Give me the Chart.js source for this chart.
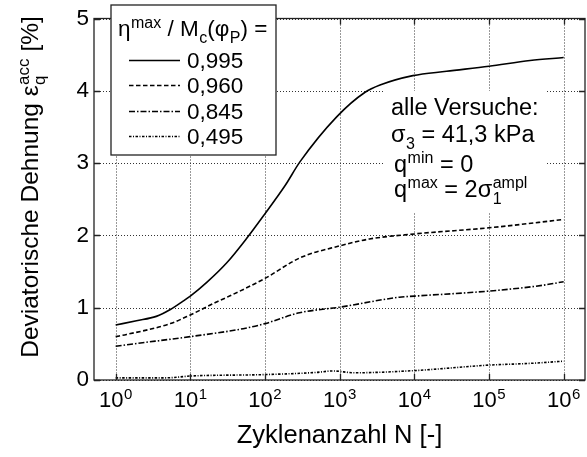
<!DOCTYPE html>
<html>
<head>
<meta charset="utf-8">
<script src="https://cdn.jsdelivr.net/npm/chart.js@4.4.1/dist/chart.umd.min.js"></script>
<style>
  html, body { margin: 0; padding: 0; background: #fff; }
  canvas { display: block; }
</style>
</head>
<body>
<canvas id="chart" width="587" height="457"></canvas>
<script>
const FONT = '"Liberation Sans", Arial, Helvetica, sans-serif';

// Zyklenanzahl N und akkumulierte Dehnung [%] je Versuch
const n995 = [1, 1.9, 3.5, 5.4, 8, 10, 16.6, 31, 56, 100, 186, 295, 912, 2190, 3470, 9550, 27000, 100000, 355000, 1000000];
const eps995 = [0.76, 0.82, 0.88, 0.975, 1.09, 1.16, 1.35, 1.625, 1.95, 2.30, 2.69, 3.02, 3.64, 3.98, 4.08, 4.21, 4.27, 4.34, 4.42, 4.46];

const n960 = [1, 1.4, 5.4, 10, 22, 31, 100, 295, 1000, 2500, 10000, 100000, 1000000];
const eps960 = [0.60, 0.63, 0.78, 0.90, 1.075, 1.145, 1.405, 1.69, 1.855, 1.95, 2.02, 2.105, 2.22];

const n845 = [1, 1.75, 10, 51, 100, 290, 1000, 6300, 10000, 100000, 525000, 1000000];
const eps845 = [0.467, 0.50, 0.60, 0.71, 0.78, 0.93, 1.007, 1.145, 1.16, 1.23, 1.31, 1.36];

const n495 = [1, 4.8, 10, 100, 490, 810, 1580, 10000, 100000, 355000, 1000000];
const eps495 = [0.03, 0.03, 0.055, 0.075, 0.105, 0.125, 0.10, 0.13, 0.206, 0.23, 0.26];

const seriesLabels = ['0,995', '0,960', '0,845', '0,495'];
const xTickValues = [1, 10, 100, 1000, 10000, 100000, 1000000];
const xTickExp = ['0', '1', '2', '3', '4', '5', '6'];
const yTickValues = [0, 1, 2, 3, 4, 5];

const dashes = [[], [4.5, 2.5], [6, 2, 1.5, 2], [2.5, 1.5, 1, 1.5]];

function toPoints(xs, ys) {
    return xs.map((x, i) => ({ x, y: ys[i] }));
}

// Text mit Hoch-/Tiefstellung; gibt die Breite zurück
function rich(ctx, parts, x, y, size, draw) {
    const small = Math.round(size * 0.7);
    let cx = x;
    for (const p of parts) {
        if (p.t) {
            ctx.font = size + 'px ' + FONT;
            if (draw) ctx.fillText(p.t, cx, y);
            cx += ctx.measureText(p.t).width;
        }
        let w = 0;
        ctx.font = small + 'px ' + FONT;
        if (p.sup) {
            if (draw) ctx.fillText(p.sup, cx + 0.5, y - size * 0.37);
            w = Math.max(w, ctx.measureText(p.sup).width + 0.5);
        }
        if (p.sub) {
            if (draw) ctx.fillText(p.sub, cx + 0.5, y + size * 0.3);
            w = Math.max(w, ctx.measureText(p.sub).width + 0.5);
        }
        cx += w;
    }
    return cx - x;
}

const paper = {
    id: 'paper',
    beforeDatasetsDraw(chart) {
        const { ctx, chartArea: a, scales: { x, y } } = chart;
        ctx.save();
        ctx.strokeStyle = '#333';
        ctx.lineWidth = 1;
        ctx.setLineDash([1, 2]);
        xTickValues.forEach(v => {
            const px = Math.round(x.getPixelForValue(v)) + 0.5;
            ctx.beginPath(); ctx.moveTo(px, a.top); ctx.lineTo(px, a.bottom); ctx.stroke();
        });
        yTickValues.forEach(v => {
            const py = Math.round(y.getPixelForValue(v)) + 0.5;
            ctx.beginPath(); ctx.moveTo(a.left, py); ctx.lineTo(a.right, py); ctx.stroke();
        });
        ctx.restore();
    },
    afterDatasetsDraw(chart) {
        const { ctx, chartArea: a, scales: { x, y } } = chart;
        ctx.save();

        // Rahmen mit Ticks nach innen
        ctx.strokeStyle = '#222';
        ctx.lineWidth = 1.3;
        ctx.strokeRect(a.left, a.top, a.right - a.left, a.bottom - a.top);
        ctx.beginPath();
        xTickValues.forEach(v => {
            const px = Math.round(x.getPixelForValue(v)) + 0.5;
            ctx.moveTo(px, a.bottom); ctx.lineTo(px, a.bottom - 6);
            ctx.moveTo(px, a.top); ctx.lineTo(px, a.top + 6);
        });
        yTickValues.forEach(v => {
            const py = Math.round(y.getPixelForValue(v)) + 0.5;
            ctx.moveTo(a.left, py); ctx.lineTo(a.left + 6, py);
            ctx.moveTo(a.right, py); ctx.lineTo(a.right - 6, py);
        });
        ctx.stroke();

        ctx.fillStyle = '#000';
        ctx.textBaseline = 'alphabetic';
        ctx.textAlign = 'left';

        // x-Tick-Beschriftung 10^n
        xTickValues.forEach((v, i) => {
            const parts = [{ t: '10', sup: xTickExp[i] }];
            const w = rich(ctx, parts, 0, 0, 22, false);
            rich(ctx, parts, x.getPixelForValue(v) - w / 2, 407, 22, true);
        });

        // Achsentitel
        const xt = [{ t: 'Zyklenanzahl N [-]' }];
        const xw = rich(ctx, xt, 0, 0, 25.5, false);
        rich(ctx, xt, (a.left + a.right) / 2 - xw / 2, 443, 25.5, true);

        const yt = [{ t: 'Deviatorische Dehnung ε', sup: 'acc', sub: 'q' }, { t: ' [%]' }];
        const yw = rich(ctx, yt, 0, 0, 24.5, false);
        ctx.save();
        ctx.translate(38, 187);
        ctx.rotate(-Math.PI / 2);
        rich(ctx, yt, -yw / 2, 0, 24.5, true);
        ctx.restore();

        // Legende
        ctx.fillStyle = '#fff';
        ctx.fillRect(111, 5, 165, 150);
        ctx.strokeStyle = '#222';
        ctx.lineWidth = 1.3;
        ctx.setLineDash([]);
        ctx.strokeRect(111, 5, 165, 150);
        ctx.fillStyle = '#000';
        rich(ctx, [{ t: 'η', sup: 'max' }, { t: ' / M', sub: 'c' }, { t: '(φ', sub: 'P' }, { t: ') =' }], 118, 36, 22.5, true);
        const rows = [68, 93, 119, 144];
        chart.data.datasets.forEach((ds, i) => {
            const ly = rows[i] - 7.5;
            ctx.strokeStyle = '#000';
            ctx.lineWidth = ds.borderWidth;
            ctx.setLineDash(ds.borderDash);
            ctx.beginPath(); ctx.moveTo(129, ly); ctx.lineTo(180, ly); ctx.stroke();
            ctx.setLineDash([]);
            ctx.font = '22.5px ' + FONT;
            ctx.fillText(ds.label, 187, rows[i]);
        });

        // Versuchsbedingungen
        ctx.fillStyle = '#fff';
        ctx.fillRect(383, 91, 162, 121);
        ctx.fillStyle = '#000';
        rich(ctx, [{ t: 'alle Versuche:' }], 391, 115, 23.5, true);
        rich(ctx, [{ t: 'σ', sub: '3' }, { t: ' = 41,3 kPa' }], 391, 142, 23.5, true);
        rich(ctx, [{ t: 'q', sup: 'min' }, { t: ' = 0' }], 394, 172, 23.5, true);
        rich(ctx, [{ t: 'q', sup: 'max' }, { t: ' = 2σ', sup: 'ampl', sub: '1' }], 394, 197, 23.5, true);

        ctx.restore();
    }
};

const ctx = document.getElementById('chart').getContext('2d');

const chart = new Chart(ctx, {
    type: 'scatter',
    data: {
        datasets: [
            { label: seriesLabels[0], data: toPoints(n995, eps995), borderDash: dashes[0] },
            { label: seriesLabels[1], data: toPoints(n960, eps960), borderDash: dashes[1] },
            { label: seriesLabels[2], data: toPoints(n845, eps845), borderDash: dashes[2] },
            { label: seriesLabels[3], data: toPoints(n495, eps495), borderDash: dashes[3] }
        ].map(ds => Object.assign(ds, {
            showLine: true,
            borderColor: '#000',
            backgroundColor: '#000',
            borderWidth: 1.6,
            pointRadius: 0,
            cubicInterpolationMode: 'monotone'
        }))
    },
    options: {
        responsive: false,
        animation: false,
        layout: { padding: { top: 16, right: 2, left: 0, bottom: 0 } },
        plugins: {
            legend: { display: false },
            tooltip: { enabled: false }
        },
        scales: {
            x: {
                type: 'logarithmic',
                min: 0.513,
                max: 1.93e6,
                grid: { display: false, drawTicks: false },
                border: { display: false },
                ticks: { display: false },
                afterFit: s => { s.height = 77; }
            },
            y: {
                min: 0,
                max: 5,
                grid: { display: false, drawTicks: false },
                border: { display: false },
                ticks: {
                    stepSize: 1,
                    padding: 5,
                    color: '#000',
                    font: { family: FONT, size: 22.5 }
                },
                afterFit: s => { s.width = 94; }
            }
        }
    },
    plugins: [paper]
});
</script>
</body>
</html>
